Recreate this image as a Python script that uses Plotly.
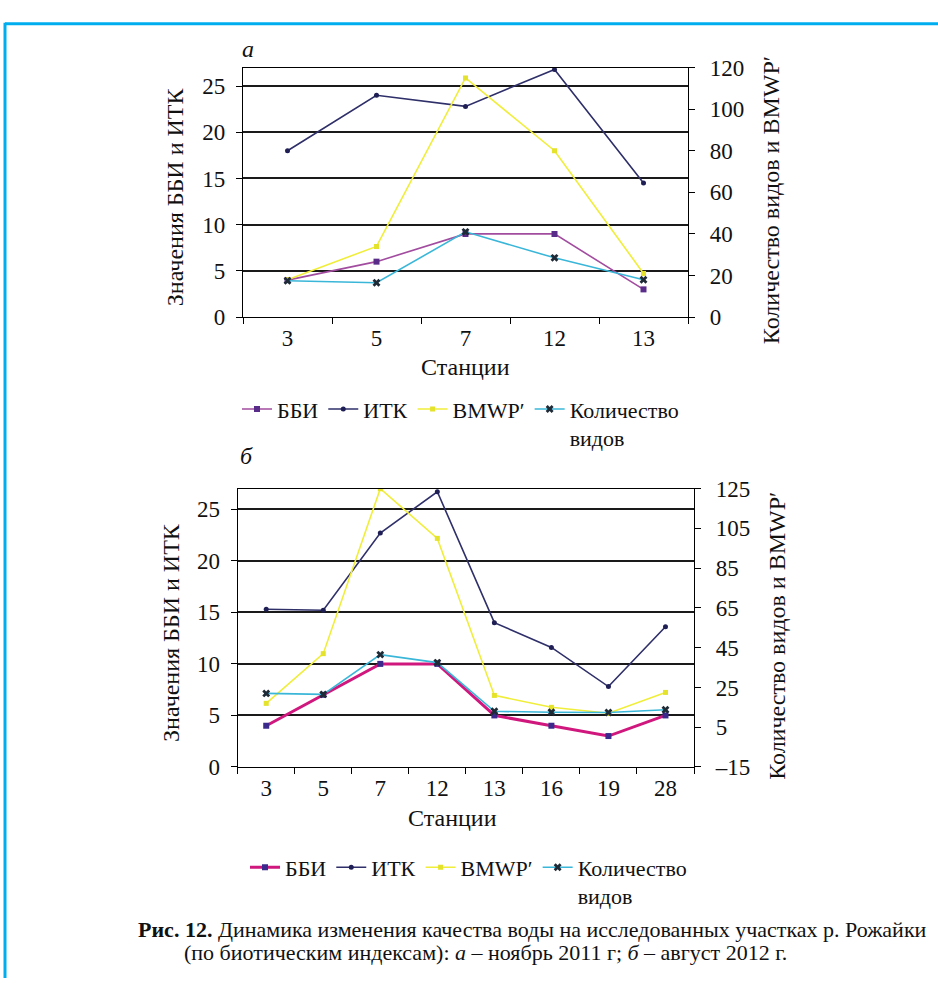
import plotly.graph_objects as go

W, H = 938, 991

# ---------------- data ----------------
stations_a = ["3", "5", "7", "12", "13"]
bbi_a = [4, 6, 9, 9, 3]
itk_a = [18, 24, 22.8, 26.8, 14.5]
bmwp_a = [18, 34, 115, 80, 21]
species_a = [17.5, 16.5, 41, 28.5, 18]

stations_b = ["3", "5", "7", "12", "13", "16", "19", "28"]
bbi_b = [4, 7, 10, 10, 5, 4, 3, 5]
itk_b = [15.3, 15.2, 22.7, 26.7, 14.0, 11.6, 7.8, 13.6]
bmwp_b = [17, 42, 125, 100, 21, 15, 12, 22.5]
species_b = [22, 21.5, 41.5, 37.5, 13, 12.5, 12.4, 13.8]

left_ticks = [0, 5, 10, 15, 20, 25]
right_ticks_a = [0, 20, 40, 60, 80, 100, 120]
right_ticks_b = [-15, 5, 25, 45, 65, 85, 105, 125]

series_names = ["ББИ", "ИТК", "BMWP′", "Количество<br>видов"]

FONT = "Liberation Serif, Tinos, 'Times New Roman', Times, 'DejaVu Serif', serif"


def fx(px):
    return px / W


def fy(py):
    return 1 - py / H


fig = go.Figure()

styles_top = [
    dict(line=dict(color="#A24C9F", width=1.6), marker=dict(symbol="square", size=6, color="#5A2C8A")),
    dict(line=dict(color="#2F2F6A", width=1.6), marker=dict(symbol="circle", size=5, color="#1F1F55")),
    dict(line=dict(color="#F0EE3A", width=1.6), marker=dict(symbol="square", size=5, color="#E4E22A")),
    dict(line=dict(color="#3AB7D8", width=1.6), marker=dict(symbol="x", size=7, color="#1E2A36")),
]
styles_bot = [
    dict(line=dict(color="#D0177E", width=3), marker=dict(symbol="square", size=6, color="#3B2A8C")),
    dict(line=dict(color="#2F2F6A", width=1.6), marker=dict(symbol="circle", size=5, color="#1F1F55")),
    dict(line=dict(color="#F0EE3A", width=1.6), marker=dict(symbol="square", size=5, color="#E4E22A")),
    dict(line=dict(color="#3AB7D8", width=1.6), marker=dict(symbol="x", size=7, color="#1E2A36")),
]

# top chart (a)
vals_a = [bbi_a, itk_a, bmwp_a, species_a]
axes_a = ["y", "y", "y2", "y2"]
for name, v, ya, st in zip(series_names, vals_a, axes_a, styles_top):
    fig.add_trace(go.Scatter(x=stations_a, y=v, name=name, mode="lines+markers",
                             xaxis="x", yaxis=ya, legend="legend", **st))

# bottom chart (b)
vals_b = [bbi_b, itk_b, bmwp_b, species_b]
axes_b = ["y3", "y3", "y4", "y4"]
for name, v, ya, st in zip(series_names, vals_b, axes_b, styles_bot):
    fig.add_trace(go.Scatter(x=stations_b, y=v, name=name, mode="lines+markers",
                             xaxis="x2", yaxis=ya, legend="legend2", **st))

tickfont = dict(family=FONT, size=23, color="#111")

top_x = [fx(243), fx(688)]
top_y = [fy(313), fy(57)]
bot_x = [fx(237.7), fx(694)]
bot_y = [fy(774.5), fy(489)]

common_x = dict(type="category", tickson="boundaries", ticks="outside", ticklen=6,
                tickcolor="black", tickwidth=1.3, showline=True, linecolor="black",
                linewidth=1.3, mirror=True, showgrid=False, zeroline=False,
                tickfont=tickfont, fixedrange=True)
common_left = dict(ticks="outside", ticklen=6, tickcolor="black", tickwidth=1.3,
                   showline=True, linecolor="black", linewidth=1.3, showgrid=True,
                   gridcolor="#1a1a1a", gridwidth=2, zeroline=False, tickfont=tickfont,
                   ticklabelstandoff=6, range=[0, 27], tickvals=left_ticks)
common_right = dict(side="right", ticks="outside", ticklen=6, tickcolor="black", tickwidth=1.3,
                    showline=True, linecolor="black", linewidth=1.3, showgrid=False,
                    zeroline=False, tickfont=tickfont, ticklabelstandoff=10)
cross_x = dict(ticks="inside", ticklen=6, tickcolor="black", tickwidth=1.3,
               showticklabels=False, showgrid=False, showline=False, zeroline=False)
cross_y = dict(side="right", ticks="inside", ticklen=6, tickcolor="black", tickwidth=1.3,
               showticklabels=False, showgrid=False, showline=False, zeroline=False)

fig.update_layout(
    xaxis=dict(domain=top_x, anchor="y", categoryarray=stations_a,
               categoryorder="array", range=[-0.5, len(stations_a) - 0.5], **common_x),
    yaxis=dict(domain=top_y, anchor="x", **common_left),
    yaxis2=dict(overlaying="y", anchor="x", range=[0, 120], tickvals=right_ticks_a, **common_right),
    xaxis3=dict(overlaying="x", anchor="y", range=[-0.5, len(stations_a) - 0.5],
                tickvals=[i + 0.5 for i in range(len(stations_a) - 1)], **cross_x),
    yaxis5=dict(overlaying="y", anchor="x", range=[0, 120], tickvals=right_ticks_a, **cross_y),

    xaxis2=dict(domain=bot_x, anchor="y3", categoryarray=stations_b,
                categoryorder="array", range=[-0.5, len(stations_b) - 0.5], **common_x),
    yaxis3=dict(domain=bot_y, anchor="x2", **common_left),
    yaxis4=dict(overlaying="y3", anchor="x2", range=[-15, 125], tickvals=right_ticks_b,
                ticktext=[str(t).replace("-", "–") for t in right_ticks_b], **common_right),
    xaxis4=dict(overlaying="x2", anchor="y3", range=[-0.5, len(stations_b) - 0.5],
                tickvals=[i + 0.5 for i in range(len(stations_b) - 1)], **cross_x),
    yaxis6=dict(overlaying="y3", anchor="x2", range=[-15, 125], tickvals=right_ticks_b, **cross_y),
)

legend_common = dict(orientation="h", xanchor="left", yanchor="top", valign="top",
                     bgcolor="rgba(0,0,0,0)", itemwidth=30, traceorder="normal",
                     font=dict(family=FONT, size=22, color="#111"))
fig.update_layout(
    legend=dict(x=fx(237), y=fy(386), **legend_common),
    legend2=dict(x=fx(245), y=fy(856), **legend_common),
)

ann_font = dict(family=FONT, size=24, color="#111")
annotations = [
    dict(text="<i>а</i>", x=fx(248), y=fy(38)),
    dict(text="<i>б</i>", x=fx(247), y=fy(456)),
    dict(text="Значения ББИ и ИТК", x=fx(175), y=fy(190), textangle=-90),
    dict(text="Количество видов и BMWP′", x=fx(771), y=fy(193), textangle=-90),
    dict(text="Станции", x=fx(465), y=fy(364)),
    dict(text="Значения ББИ и ИТК", x=fx(171), y=fy(637), textangle=-90),
    dict(text="Количество видов и BMWP′", x=fx(777), y=fy(640), textangle=-90),
    dict(text="Станции", x=fx(452), y=fy(827)),
]
for a in annotations:
    a.update(xref="paper", yref="paper", showarrow=False, xanchor="center",
             yanchor="middle", font=ann_font)

cap_font = dict(family=FONT, size=22, color="#111")
annotations.append(dict(
    text="<b>Рис. 12.</b> Динамика изменения качества воды на исследованных участках р. Рожайки",
    x=fx(929), y=fy(941), xref="paper", yref="paper", showarrow=False,
    xanchor="right", yanchor="middle", font=cap_font))
annotations.append(dict(
    text="(по биотическим индексам): <i>а</i> – ноябрь 2011 г; <i>б</i> – август 2012 г.",
    x=fx(486), y=fy(965), xref="paper", yref="paper", showarrow=False,
    xanchor="center", yanchor="middle", font=cap_font))

shapes = [
    dict(type="line", xref="paper", yref="paper", x0=fx(5), x1=1.0, y0=fy(12), y1=fy(12),
         line=dict(color="#00AEEF", width=3)),
    dict(type="line", xref="paper", yref="paper", x0=fx(5), x1=fx(5), y0=fy(11), y1=0.0,
         line=dict(color="#00AEEF", width=3)),
]

fig.update_layout(
    width=W, height=H, margin=dict(l=0, r=0, t=0, b=0),
    paper_bgcolor="white", plot_bgcolor="white",
    font=dict(family=FONT, size=22, color="#111"),
    annotations=annotations, shapes=shapes, showlegend=True,
    hovermode=False,
)

fig.write_html("out.html", config={"displayModeBar": False},
               post_script="document.body.style.margin='0';document.body.style.overflow='hidden';")
